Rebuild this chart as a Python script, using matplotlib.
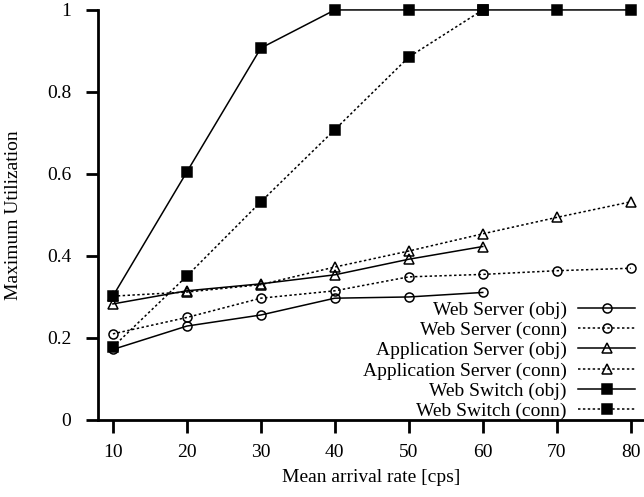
import matplotlib
matplotlib.use('Agg')
import matplotlib.pyplot as plt

plt.rcParams['font.family'] = ['Liberation Serif', 'DejaVu Serif']
plt.rcParams['font.size'] = 14

# Data
rate = [10, 20, 30, 40, 50, 60, 70, 80]
web_server_obj = [0.172, 0.229, 0.256, 0.297, 0.300, 0.311]
web_server_conn = [0.210, 0.250, 0.297, 0.315, 0.349, 0.355, 0.364, 0.370]
app_server_obj = [0.283, 0.315, 0.332, 0.354, 0.392, 0.423]
app_server_conn = [0.302, 0.312, 0.330, 0.373, 0.412, 0.454, 0.494, 0.532]
web_switch_obj = [0.302, 0.605, 0.907, 1.0, 1.0, 1.0, 1.0, 1.0]
web_switch_conn = [0.178, 0.351, 0.532, 0.708, 0.885, 1.0]

labels = ['Web Server (obj)', 'Web Server (conn)',
          'Application Server (obj)', 'Application Server (conn)',
          'Web Switch (obj)', 'Web Switch (conn)']

fig = plt.figure(figsize=(6.44, 4.97), dpi=100)
ax = fig.add_axes([0.152, 0.155, 0.848, 0.825])

dot = (0, (1.6, 1.6))
series = [
    (web_server_obj, '-', 'o', 'none'),
    (web_server_conn, dot, 'o', 'none'),
    (app_server_obj, '-', '^', 'none'),
    (app_server_conn, dot, '^', 'none'),
    (web_switch_obj, '-', 's', 'black'),
    (web_switch_conn, dot, 's', 'black'),
]
for (vals, ls, mk, fc), lab in zip(series, labels):
    ax.plot(rate[:len(vals)], vals, color='black', linestyle=ls, linewidth=1.1,
            marker=mk, markersize=6.5, markerfacecolor=fc, markeredgecolor='black',
            markeredgewidth=1.1, label=lab, clip_on=False)

ax.set_xlim(7.97, 81.8)
ax.set_ylim(0, 1)
ax.set_xticks([10, 20, 30, 40, 50, 60, 70, 80])
ax.set_yticks([0, 0.2, 0.4, 0.6, 0.8, 1])
ax.set_yticklabels(['0', '0.2', '0.4', '0.6', '0.8', '1'])
for s in ['top', 'right']:
    ax.spines[s].set_visible(False)
for s in ['left', 'bottom']:
    ax.spines[s].set_linewidth(2)
ax.tick_params(direction='out', length=9, width=2, labelsize=14)
ax.tick_params(axis='y', pad=10)
ax.tick_params(axis='x', pad=8)

ax.set_xlabel('Mean arrival rate [cps]', fontsize=14, labelpad=6)
ax.set_ylabel('Maximum Utilization', fontsize=14, labelpad=18)

ax.legend(loc='lower right', bbox_to_anchor=(0.983, 0.0), frameon=False,
          markerfirst=False, handlelength=2.9, handletextpad=0.6,
          labelspacing=0.13, borderpad=0, borderaxespad=0, numpoints=1,
          fontsize=14)

fig.savefig('out.png', dpi=100)
